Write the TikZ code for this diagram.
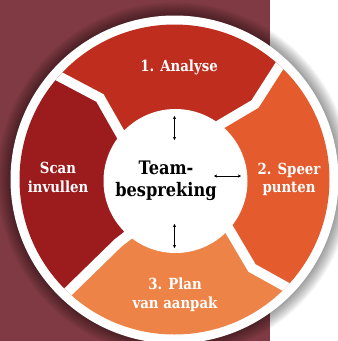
\documentclass[tikz,border=0pt]{standalone}
\usepackage{fontspec}
\setmainfont{DejaVu Serif}[FakeStretch=0.87]
\usetikzlibrary{arrows.meta}
\definecolor{bgmaroon}{HTML}{803A43}
\definecolor{segtop}{HTML}{BE2D1E}
\definecolor{segright}{HTML}{E45B2E}
\definecolor{segbottom}{HTML}{EE8347}
\definecolor{segleft}{HTML}{9C1C1E}
\tikzset{
  lbl/.style={text=white, font=\fontsize{15.3}{18.5}\selectfont\bfseries, align=center, inner sep=0pt},
  centrelbl/.style={text=black, font=\fontsize{18.6}{22}\selectfont\bfseries, align=center, inner sep=0pt},
  sep/.style={white, line width=10pt, line join=miter, line cap=butt},
  dblarrow/.style={black, line width=0.8pt, {Stealth[length=3.2pt,width=3.4pt]}-{Stealth[length=3.2pt,width=3.4pt]}}
}
\begin{document}
\begin{tikzpicture}[x=1pt,y=-1pt]
\useasboundingbox (0,0) rectangle (338,341);
\fill[white] (0,0) rectangle (338,341);
\fill[bgmaroon] (0,0) rectangle (270,341);
\coordinate (C) at (174.5,179.5);
\coordinate (Ci) at (175.5,181);
% shadow
\foreach \i in {1,...,12}{
  \fill[black,opacity=0.035] (C) circle ({164pt+\i*1.1pt});
}
\fill[white] (C) circle (164pt);
% separator points
\coordinate (tlo) at (30,61);
\coordinate (tlk) at (100,98);
\coordinate (tli) at (125,142);
\coordinate (tro) at (305,26);
\coordinate (trk) at (255,104);
\coordinate (tri) at (211,130);
\coordinate (bro) at (324,308);
\coordinate (brk) at (252,268);
\coordinate (bri) at (226,224);
\coordinate (blo) at (35,324);
\coordinate (blk) at (118,243);
\coordinate (bli) at (145,222);
\begin{scope}
  \clip (C) circle (155pt);
  \fill[segtop] (Ci) -- (tli) -- (tlk) -- (tlo) -- (-60,-100) -- (400,-100) -- (tro) -- (trk) -- (tri) -- cycle;
  \fill[segright] (Ci) -- (tri) -- (trk) -- (tro) -- (460,-60) -- (460,420) -- (bro) -- (brk) -- (bri) -- cycle;
  \fill[segbottom] (Ci) -- (bri) -- (brk) -- (bro) -- (420,460) -- (-60,460) -- (blo) -- (blk) -- (bli) -- cycle;
  \fill[segleft] (Ci) -- (bli) -- (blk) -- (blo) -- (-100,420) -- (-100,-60) -- (tlo) -- (tlk) -- (tli) -- cycle;
  \draw[sep] (tli) -- (tlk) -- (tlo);
  \draw[sep] (tri) -- (trk) -- (tro);
  \draw[sep] (bri) -- (brk) -- (bro);
  \draw[sep] (bli) -- (blk) -- (blo);
\end{scope}
\fill[white] (Ci) circle (72pt);
% labels
\node[lbl, anchor=base] (analyse) at (179,71) {1. Analyse};
\node[lbl] (speer) at (289,179.5) {2. Speer\\punten};
\node[lbl] (plan) at (175,295) {3. Plan\\van aanpak};
\node[lbl] (scan) at (58,177.2) {Scan\\invullen};
\node[centrelbl] (team) at (166,180.6) {Team-\\bespreking};
% arrows
\coordinate (a1s) at (174.5,116);
\coordinate (a1e) at (174.5,140);
\coordinate (a2s) at (174.5,224);
\coordinate (a2e) at (174.5,248);
\coordinate (a3s) at (214,176);
\coordinate (a3e) at (241,176);
\draw[dblarrow] (a1s) -- (a1e);
\draw[dblarrow] (a2s) -- (a2e);
\draw[dblarrow] (a3s) -- (a3e);
\end{tikzpicture}
\end{document}
